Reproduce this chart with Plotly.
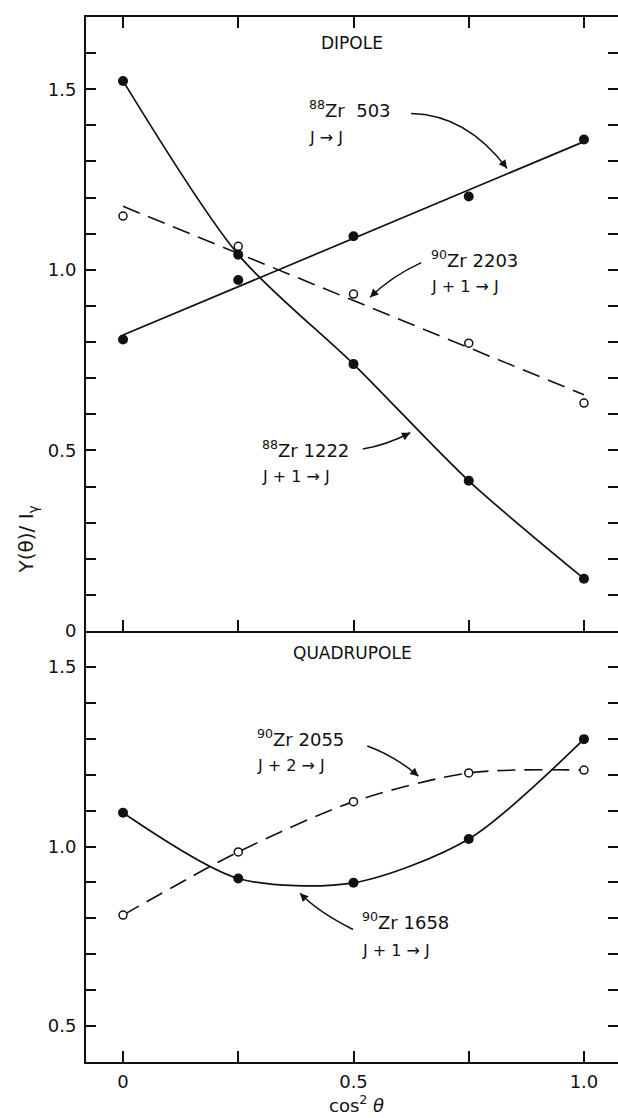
import numpy as np
import plotly.graph_objects as go

# ---- data -------------------------------------------------------------
cos2 = [0.0, 0.25, 0.5, 0.75, 1.0]

# dipole transitions
zr88_503 = [0.807, 0.972, 1.093, 1.203, 1.361]
zr88_1222 = [1.523, 1.042, 0.739, 0.416, 0.145]
zr90_2203 = [1.149, 1.065, 0.933, 0.797, 0.631]

# quadrupole transitions
zr90_1658 = [1.094, 0.911, 0.899, 1.021, 1.299]
zr90_2055 = [0.809, 0.985, 1.125, 1.205, 1.213]

x_tickvals = [0.0, 0.25, 0.5, 0.75, 1.0]
x_ticktext = ["0", "", "0.5", "", "1.0"]

top_ticks = [round(v, 1) for v in np.arange(0.0, 1.65, 0.1)]
bot_ticks = [round(v, 1) for v in np.arange(0.5, 1.55, 0.1)]


def tick_labels(vals):
    out = []
    for v in vals:
        if abs(v) < 1e-9:
            out.append("0")
        elif abs(v * 2 - round(v * 2)) < 1e-9:
            out.append(f"{v:.1f}")
        else:
            out.append("")
    return out


# ---- geometry ---------------------------------------------------------
W, H = 618, 1118
M_L, M_R, M_T, M_B = 86, 0, 17, 56
X_RANGE = [-0.0803, 1.0738]
Y_TOP = [0.0, 1.7]
Y_BOT = [0.4, 1.6]
SPLIT = 0.4124

PLOT_W = W - M_L - M_R
PLOT_H = H - M_T - M_B
SX = PLOT_W / (X_RANGE[1] - X_RANGE[0])
SY_TOP = PLOT_H * (1 - SPLIT) / (Y_TOP[1] - Y_TOP[0])
SY_BOT = PLOT_H * SPLIT / (Y_BOT[1] - Y_BOT[0])

FONT = "DejaVu Sans"
INK = "#111111"
DASH = "18px,9px"

fig = go.Figure()

# straight least-squares lines through the dipole sets
xs_line = np.array([0.0, 1.0])
fit_503 = np.polyval(np.polyfit(cos2, zr88_503, 1), xs_line)
fit_2203 = np.polyval(np.polyfit(cos2, zr90_2203, 1), xs_line)

# ---- dipole panel (x2, y2) ---------------------------------------------
fig.add_trace(go.Scatter(x=xs_line, y=fit_503, mode="lines",
                         line=dict(color=INK, width=1.7),
                         xaxis="x2", yaxis="y2", hoverinfo="skip"))
fig.add_trace(go.Scatter(x=xs_line, y=fit_2203, mode="lines",
                         line=dict(color=INK, width=1.6, dash=DASH),
                         xaxis="x2", yaxis="y2", hoverinfo="skip"))
fig.add_trace(go.Scatter(x=cos2, y=zr88_1222, mode="lines",
                         line=dict(color=INK, width=1.7, shape="spline", smoothing=0.8),
                         xaxis="x2", yaxis="y2", hoverinfo="skip"))

fig.add_trace(go.Scatter(x=cos2, y=zr88_503, mode="markers",
                         marker=dict(color=INK, size=10, symbol="circle"),
                         xaxis="x2", yaxis="y2", name="88Zr 503"))
fig.add_trace(go.Scatter(x=cos2, y=zr88_1222, mode="markers",
                         marker=dict(color=INK, size=10, symbol="circle"),
                         xaxis="x2", yaxis="y2", name="88Zr 1222"))
fig.add_trace(go.Scatter(x=cos2, y=zr90_2203, mode="markers",
                         marker=dict(color="white", size=8, symbol="circle",
                                     line=dict(color=INK, width=1.5)),
                         xaxis="x2", yaxis="y2", name="90Zr 2203"))

# ---- quadrupole panel (x, y) -------------------------------------------
fig.add_trace(go.Scatter(x=cos2, y=zr90_2055, mode="lines",
                         line=dict(color=INK, width=1.6, dash=DASH, shape="spline", smoothing=0.8),
                         xaxis="x", yaxis="y", hoverinfo="skip"))
fig.add_trace(go.Scatter(x=cos2, y=zr90_1658, mode="lines",
                         line=dict(color=INK, width=1.7, shape="spline", smoothing=0.8),
                         xaxis="x", yaxis="y", hoverinfo="skip"))
fig.add_trace(go.Scatter(x=cos2, y=zr90_1658, mode="markers",
                         marker=dict(color=INK, size=10, symbol="circle"),
                         xaxis="x", yaxis="y", name="90Zr 1658"))
fig.add_trace(go.Scatter(x=cos2, y=zr90_2055, mode="markers",
                         marker=dict(color="white", size=8, symbol="circle",
                                     line=dict(color=INK, width=1.5)),
                         xaxis="x", yaxis="y", name="90Zr 2055"))

# empty traces so the right-hand tick axes are laid out
fig.add_trace(go.Scatter(x=[], y=[], xaxis="x", yaxis="y3", hoverinfo="skip"))
fig.add_trace(go.Scatter(x=[], y=[], xaxis="x2", yaxis="y4", hoverinfo="skip"))

# ---- axes --------------------------------------------------------------
tickfont = dict(family=FONT, size=18, color=INK)
common_x = dict(range=X_RANGE, tickmode="array", tickvals=x_tickvals,
                ticks="inside", ticklen=11, tickwidth=2, tickcolor=INK,
                showline=True, linewidth=2, linecolor=INK,
                showgrid=False, zeroline=False, tickfont=tickfont,
                fixedrange=True)
common_y = dict(tickmode="array", ticks="inside", ticklen=10, tickwidth=2,
                tickcolor=INK, showgrid=False, zeroline=False,
                tickfont=tickfont, fixedrange=True)

fig.update_layout(
    width=W, height=H,
    margin=dict(l=M_L, r=M_R, t=M_T, b=M_B, pad=0),
    paper_bgcolor="white", plot_bgcolor="white",
    showlegend=False,
    font=dict(family=FONT, color=INK),
    xaxis=dict(**common_x, anchor="y", domain=[0, 1], ticktext=x_ticktext,
               ticklabelstandoff=2),
    xaxis2=dict(**common_x, anchor="y2", domain=[0, 1], matches="x",
                showticklabels=False, mirror="ticks"),
    yaxis=dict(**common_y, domain=[0, SPLIT], range=Y_BOT, anchor="x",
               tickvals=bot_ticks, ticktext=tick_labels(bot_ticks),
               showline=True, linewidth=2, linecolor=INK, ticklabelstandoff=4),
    yaxis2=dict(**common_y, domain=[SPLIT, 1], range=Y_TOP, anchor="x2",
                tickvals=top_ticks, ticktext=tick_labels(top_ticks),
                showline=True, linewidth=2, linecolor=INK, ticklabelstandoff=4),
    yaxis3=dict(**common_y, overlaying="y", side="right", anchor="x",
                range=Y_BOT, tickvals=bot_ticks, showticklabels=False,
                showline=False),
    yaxis4=dict(**common_y, overlaying="y2", side="right", anchor="x2",
                range=Y_TOP, tickvals=top_ticks, showticklabels=False,
                showline=False),
)

# ---- labels --------------------------------------------------------------
annotations = []
shapes = []


def label(text, x, y, xref, yref, size):
    annotations.append(dict(text=text, x=x, y=y, xref=xref, yref=yref,
                            xanchor="left", yanchor="middle", showarrow=False,
                            font=dict(family=FONT, size=size, color=INK)))


def curved_arrow(p0, c, p1, xref, yref, sy):
    shapes.append(dict(type="path", xref=xref, yref=yref,
                       path=f"M {p0[0]},{p0[1]} Q {c[0]},{c[1]} {p1[0]},{p1[1]}",
                       line=dict(color=INK, width=1.5)))
    dx = (c[0] - p1[0]) * SX
    dy = -(c[1] - p1[1]) * sy
    n = (dx * dx + dy * dy) ** 0.5
    annotations.append(dict(text="", x=p1[0], y=p1[1], xref=xref, yref=yref,
                            showarrow=True, arrowhead=2, arrowsize=1.1,
                            arrowwidth=1.5, arrowcolor=INK,
                            ax=dx / n * 9, ay=dy / n * 9))


NAME_SIZE = 18
TRANS_SIZE = 16

# dipole panel
annotations.append(dict(text="DIPOLE", x=0.497, y=1.627, xref="x2", yref="y2",
                        showarrow=False, font=dict(family=FONT, size=17, color=INK)))
label("<sup>88</sup>Zr\u00a0\u00a0503", 0.399, 1.445, "x2", "y2", NAME_SIZE)
label("J \u2192 J", 0.399, 1.367, "x2", "y2", TRANS_SIZE)
curved_arrow((0.625, 1.433), (0.745, 1.43), (0.833, 1.281), "x2", "y2", SY_TOP)

label("<sup>90</sup>Zr 2203", 0.664, 1.029, "x2", "y2", NAME_SIZE)
label("J + 1 \u2192 J", 0.664, 0.954, "x2", "y2", TRANS_SIZE)
curved_arrow((0.647, 1.020), (0.581, 0.981), (0.536, 0.924), "x2", "y2", SY_TOP)

label("<sup>88</sup>Zr 1222", 0.297, 0.505, "x2", "y2", NAME_SIZE)
label("J + 1 \u2192 J", 0.297, 0.427, "x2", "y2", TRANS_SIZE)
curved_arrow((0.52, 0.504), (0.57, 0.514), (0.623, 0.549), "x2", "y2", SY_TOP)

# quadrupole panel
annotations.append(dict(text="QUADRUPOLE", x=0.497, y=1.539, xref="x", yref="y",
                        showarrow=False, font=dict(family=FONT, size=17, color=INK)))
label("<sup>90</sup>Zr 2055", 0.286, 1.302, "x", "y", NAME_SIZE)
label("J + 2 \u2192 J", 0.286, 1.227, "x", "y", TRANS_SIZE)
curved_arrow((0.53, 1.280), (0.59, 1.252), (0.641, 1.196), "x", "y", SY_BOT)

label("<sup>90</sup>Zr 1658", 0.515, 0.792, "x", "y", NAME_SIZE)
label("J + 1 \u2192 J", 0.515, 0.711, "x", "y", TRANS_SIZE)
curved_arrow((0.499, 0.769), (0.422, 0.819), (0.384, 0.870), "x", "y", SY_BOT)

# axis titles
annotations.append(dict(text="Y(\u03b8)/ I<sub>\u03b3</sub>", x=-0.111, y=0.50,
                        xref="paper", yref="paper", textangle=-90,
                        showarrow=False, xanchor="center", yanchor="middle",
                        font=dict(family=FONT, size=20, color=INK)))
annotations.append(dict(text="cos<sup>2</sup> <i>\u03b8</i>", x=0.509, y=-0.0536,
                        xref="paper", yref="paper", showarrow=False,
                        xanchor="center", yanchor="bottom",
                        font=dict(family=FONT, size=18, color=INK)))

fig.update_layout(annotations=annotations, shapes=shapes)

fig.write_html("out.html")
